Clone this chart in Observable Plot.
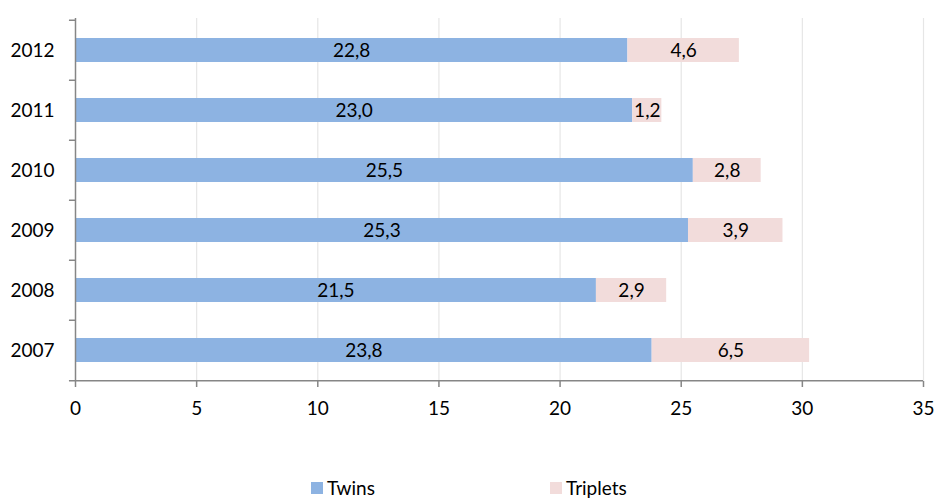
<!DOCTYPE html>
<html><head><meta charset="utf-8">
<script src="https://cdn.jsdelivr.net/npm/d3@7"></script>
<script src="https://cdn.jsdelivr.net/npm/@observablehq/plot@0.6"></script>
<style>
body{margin:0;background:#fff;font-family:Lato,"Open Sans",sans-serif;}
#wrap{position:relative;width:934px;height:499px;overflow:hidden;}
#legend{position:absolute;left:311px;top:477px;display:flex;font-size:19px;line-height:21px;color:#000;}
.item{display:flex;align-items:center;}
.sw{width:12px;height:12px;margin-right:4px;}
</style>
</head><body><div id="wrap"><div id="chart"></div><div id="legend"></div></div>
<script>
const years = ["2007","2008","2009","2010","2011","2012"];
const twins = [23.8,21.5,25.3,25.5,23.0,22.8];
const triplets = [6.5,2.9,3.9,2.8,1.2,4.6];
const xTicks = [0,5,10,15,20,25,30,35];
const series = ["Twins","Triplets"];
const colors = ["#8db3e2","#f2dcdb"];

const data = [];
years.forEach((y,i)=>{
  data.push({year:y, series:"Twins", value:twins[i]});
  data.push({year:y, series:"Triplets", value:triplets[i]});
});
const fmt = v => v.toFixed(1).replace(".", ",");

const W = 934, H = 470, mT = 18, mB = H - 381, mL = 75, mR = 11;
const step = (H - mT - mB) / years.length;
const axisColor = "#868686";

const chart = Plot.plot({
  width: W, height: H,
  marginTop: mT, marginBottom: mB, marginLeft: mL, marginRight: mR,
  style: {fontFamily: "Lato, 'Open Sans', sans-serif", fontSize: "19px", color: "#000", background: "#fff"},
  x: {domain: [0, 35], ticks: xTicks, label: null},
  y: {domain: years.slice().reverse(), paddingInner: 0.6, paddingOuter: 0.3, label: null},
  color: {domain: series, range: colors},
  marks: [
    Plot.ruleX(xTicks.slice(1), {stroke: "#e6e6e6", strokeWidth: 1.2}),
    Plot.barX(data, Plot.stackX({x: "value", y: "year", z: "series", fill: "series", order: series})),
    Plot.text(data, Plot.stackX({x: "value", y: "year", z: "series", order: series, text: d => fmt(d.value), fill: "#000", fontSize: 19})),
    Plot.ruleX([0], {stroke: axisColor, strokeWidth: 1.5}),
    Plot.ruleY(years, {y: d => d, x1: -0.25, x2: 0, dy: -step/2, stroke: axisColor, strokeWidth: 1.5}),
    Plot.ruleY(["2007"], {y: d => d, x1: -0.25, x2: 35, dy: step/2, stroke: axisColor, strokeWidth: 1.5}),
    Plot.axisX({ticks: xTicks, tickSize: 6, tickPadding: 14, tickFormat: d => d, fontSize: 19, stroke: axisColor, strokeWidth: 1.5, fill: "#000", label: null}),
    Plot.axisY({tickSize: 0, tickPadding: 21, fontSize: 19, fill: "#000", label: null})
  ]
});
document.getElementById("chart").appendChild(chart);

const lg = document.getElementById("legend");
series.forEach((s,i)=>{
  const it = document.createElement("div");
  it.className = "item";
  if (i === 0) it.style.width = "239px";
  it.innerHTML = `<span class="sw" style="background:${colors[i]}"></span><span>${s}</span>`;
  lg.appendChild(it);
});
</script>
</body></html>
